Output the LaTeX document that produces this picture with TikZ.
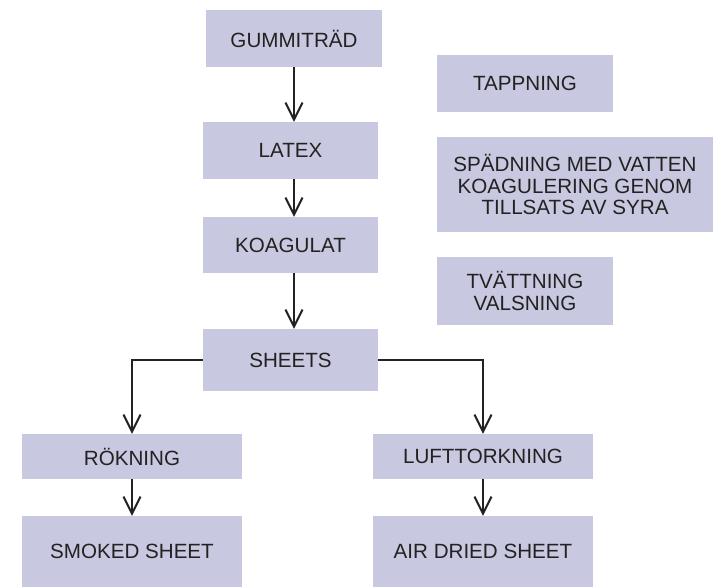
\documentclass[tikz,border=0pt]{standalone}
\usepackage{fontspec}
\setmainfont{Liberation Sans}
\usetikzlibrary{arrows.meta}
\definecolor{boxfill}{HTML}{C8C8E0}
\definecolor{txt}{HTML}{222222}
\definecolor{lne}{HTML}{222222}
\tikzset{
  box/.style={rectangle, fill=boxfill, inner sep=0pt, align=center, text=txt,
    font=\fontsize{20.6}{21.8}\selectfont},
  arr/.style={draw=lne, line width=2pt, -{Straight Barb[length=17pt,width=17pt,line width=2pt]}},
}
\begin{document}
\begin{tikzpicture}[x=1pt,y=-1pt]
\useasboundingbox (0,0) rectangle (713,587);
\node[box, minimum width=176pt, minimum height=57pt] (gum) at (294,38.5) {GUMMITRÄD};
\node[box, minimum width=175pt, minimum height=57pt] (latex) at (290.5,150.5) {LATEX};
\node[box, minimum width=175pt, minimum height=56pt] (koag) at (290.5,245) {KOAGULAT};
\node[box, minimum width=175pt, minimum height=62pt] (sheets) at (290.5,360) {SHEETS};
\node[box, minimum width=176pt, minimum height=57pt] (tapp) at (525,83.5) {TAPPNING};
\node[box, minimum width=276pt, minimum height=95pt] (spad) at (575,184.5) {SPÄDNING MED VATTEN\\KOAGULERING GENOM\\TILLSATS AV SYRA};
\node[box, minimum width=176pt, minimum height=68pt] (tvatt) at (525,291) {TVÄTTNING\\VALSNING};
\node[box, minimum width=220pt, minimum height=45pt] (rok) at (132,456.5) {RÖKNING};
\node[box, minimum width=220pt, minimum height=45pt] (luft) at (483,456.5) {LUFTTORKNING};
\node[box, minimum width=220pt, minimum height=71pt] (smoked) at (132,551.5) {SMOKED SHEET};
\node[box, minimum width=220pt, minimum height=71pt] (air) at (483,551.5) {AIR DRIED SHEET};
\draw[arr] (gum.south) -- (gum.south |- latex.north);
\draw[arr] (latex.south -| gum.south) -- (koag.north -| gum.south);
\draw[arr] (koag.south -| gum.south) -- (sheets.north -| gum.south);
\draw[arr] (sheets.west) -| (rok.north);
\draw[arr] (sheets.east) -| (luft.north);
\draw[arr] (rok.south) -- (smoked.north);
\draw[arr] (luft.south) -- (air.north);
\end{tikzpicture}
\end{document}
